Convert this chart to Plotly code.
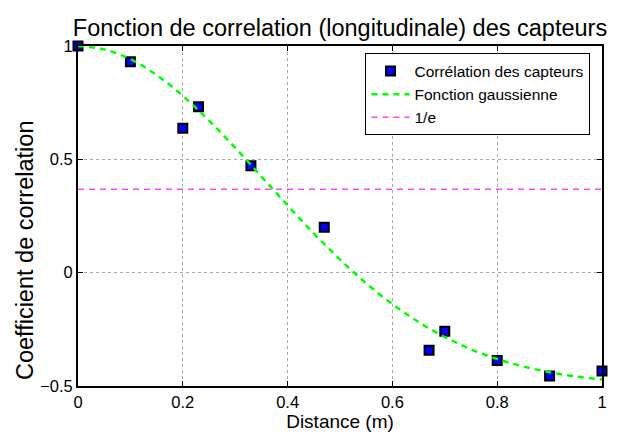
import plotly.graph_objects as go

# Mesures : corrélation entre capteurs en fonction de la distance
distance_mesures = [0.0, 0.1, 0.2, 0.23, 0.33, 0.47, 0.67, 0.70, 0.80, 0.90, 1.0]
correlation_mesures = [1.0, 0.93, 0.637, 0.732, 0.472, 0.20, -0.342, -0.259, -0.388, -0.456, -0.434]

# Courbe d'ajustement gaussienne (valeurs tabulées)
distance_courbe = [0.0, 0.05, 0.1, 0.15, 0.2, 0.25, 0.3, 0.35, 0.4, 0.45, 0.5,
                   0.55, 0.6, 0.65, 0.7, 0.75, 0.8, 0.85, 0.9, 0.95, 1.0]
correlation_courbe = [1.0, 0.985, 0.942, 0.872, 0.780, 0.671, 0.551, 0.424, 0.297, 0.173, 0.058,
                      -0.047, -0.139, -0.218, -0.284, -0.338, -0.381, -0.414, -0.439, -0.458, -0.471]

# Seuil 1/e
seuil_x = [0.0, 1.0]
seuil_y = [0.3679, 0.3679]

x_ticks = [0, 0.2, 0.4, 0.6, 0.8, 1]
x_labels = ["0", "0.2", "0.4", "0.6", "0.8", "1"]
y_ticks = [-0.5, 0, 0.5, 1]
y_labels = ["\u22120.5", "0", "0.5", "1"]

FONT = "Liberation Sans, Arial, Helvetica, sans-serif"

fig = go.Figure()
fig.add_trace(go.Scatter(
    x=distance_mesures, y=correlation_mesures, mode="markers",
    name="Corrélation des capteurs",
    marker=dict(symbol="square", size=9, color="#0000ff",
                line=dict(color="black", width=2)),
    cliponaxis=False,
))
fig.add_trace(go.Scatter(
    x=distance_courbe, y=correlation_courbe, mode="lines",
    name="Fonction gaussienne", line_shape="spline",
    line=dict(color="#00ff00", width=2.5, dash="6px,5px"),
))
fig.add_trace(go.Scatter(
    x=seuil_x, y=seuil_y, mode="lines", name="1/e",
    line=dict(color="#ff44ff", width=1.5, dash="6px,5px"),
))

axis_common = dict(
    showline=True, linecolor="black", linewidth=2, mirror="ticks",
    ticks="inside", ticklen=5, tickcolor="black", tickwidth=1,
    showgrid=True, gridcolor="#a8a8a8", griddash="dot", gridwidth=1,
    zeroline=False, tickfont=dict(family=FONT, size=16.5, color="black"),
)

fig.update_xaxes(range=[0, 1], tickvals=x_ticks, ticktext=x_labels,
                 title=dict(text="Distance (m)", font=dict(family=FONT, size=19, color="black"),
                            standoff=0),
                 **axis_common)
fig.update_yaxes(range=[-0.5, 1], tickvals=y_ticks, ticktext=y_labels, **axis_common)

# Titre de l'axe vertical, placé un peu sous le centre de l'axe
fig.add_annotation(
    text="Coefficient de correlation", textangle=-90,
    xref="paper", yref="paper", x=-0.101, y=0.40,
    xanchor="center", yanchor="middle", showarrow=False,
    font=dict(family=FONT, size=23.5, color="black"),
)

fig.update_layout(
    width=625, height=436,
    margin=dict(l=78, r=23, t=46, b=48),
    paper_bgcolor="white", plot_bgcolor="white",
    font=dict(family=FONT, color="black"),
    title=dict(text="Fonction de correlation (longitudinale) des capteurs",
               font=dict(family=FONT, size=23.5, color="black"),
               x=0.5, xanchor="center", xref="paper", y=0.936, yanchor="middle"),
    legend=dict(x=0.978, xanchor="right", y=0.978, yanchor="top",
                bgcolor="white", bordercolor="black", borderwidth=1,
                font=dict(family=FONT, size=15.5, color="black"),
                itemwidth=38, tracegroupgap=0),
    showlegend=True,
)

fig.write_html("out.html")
